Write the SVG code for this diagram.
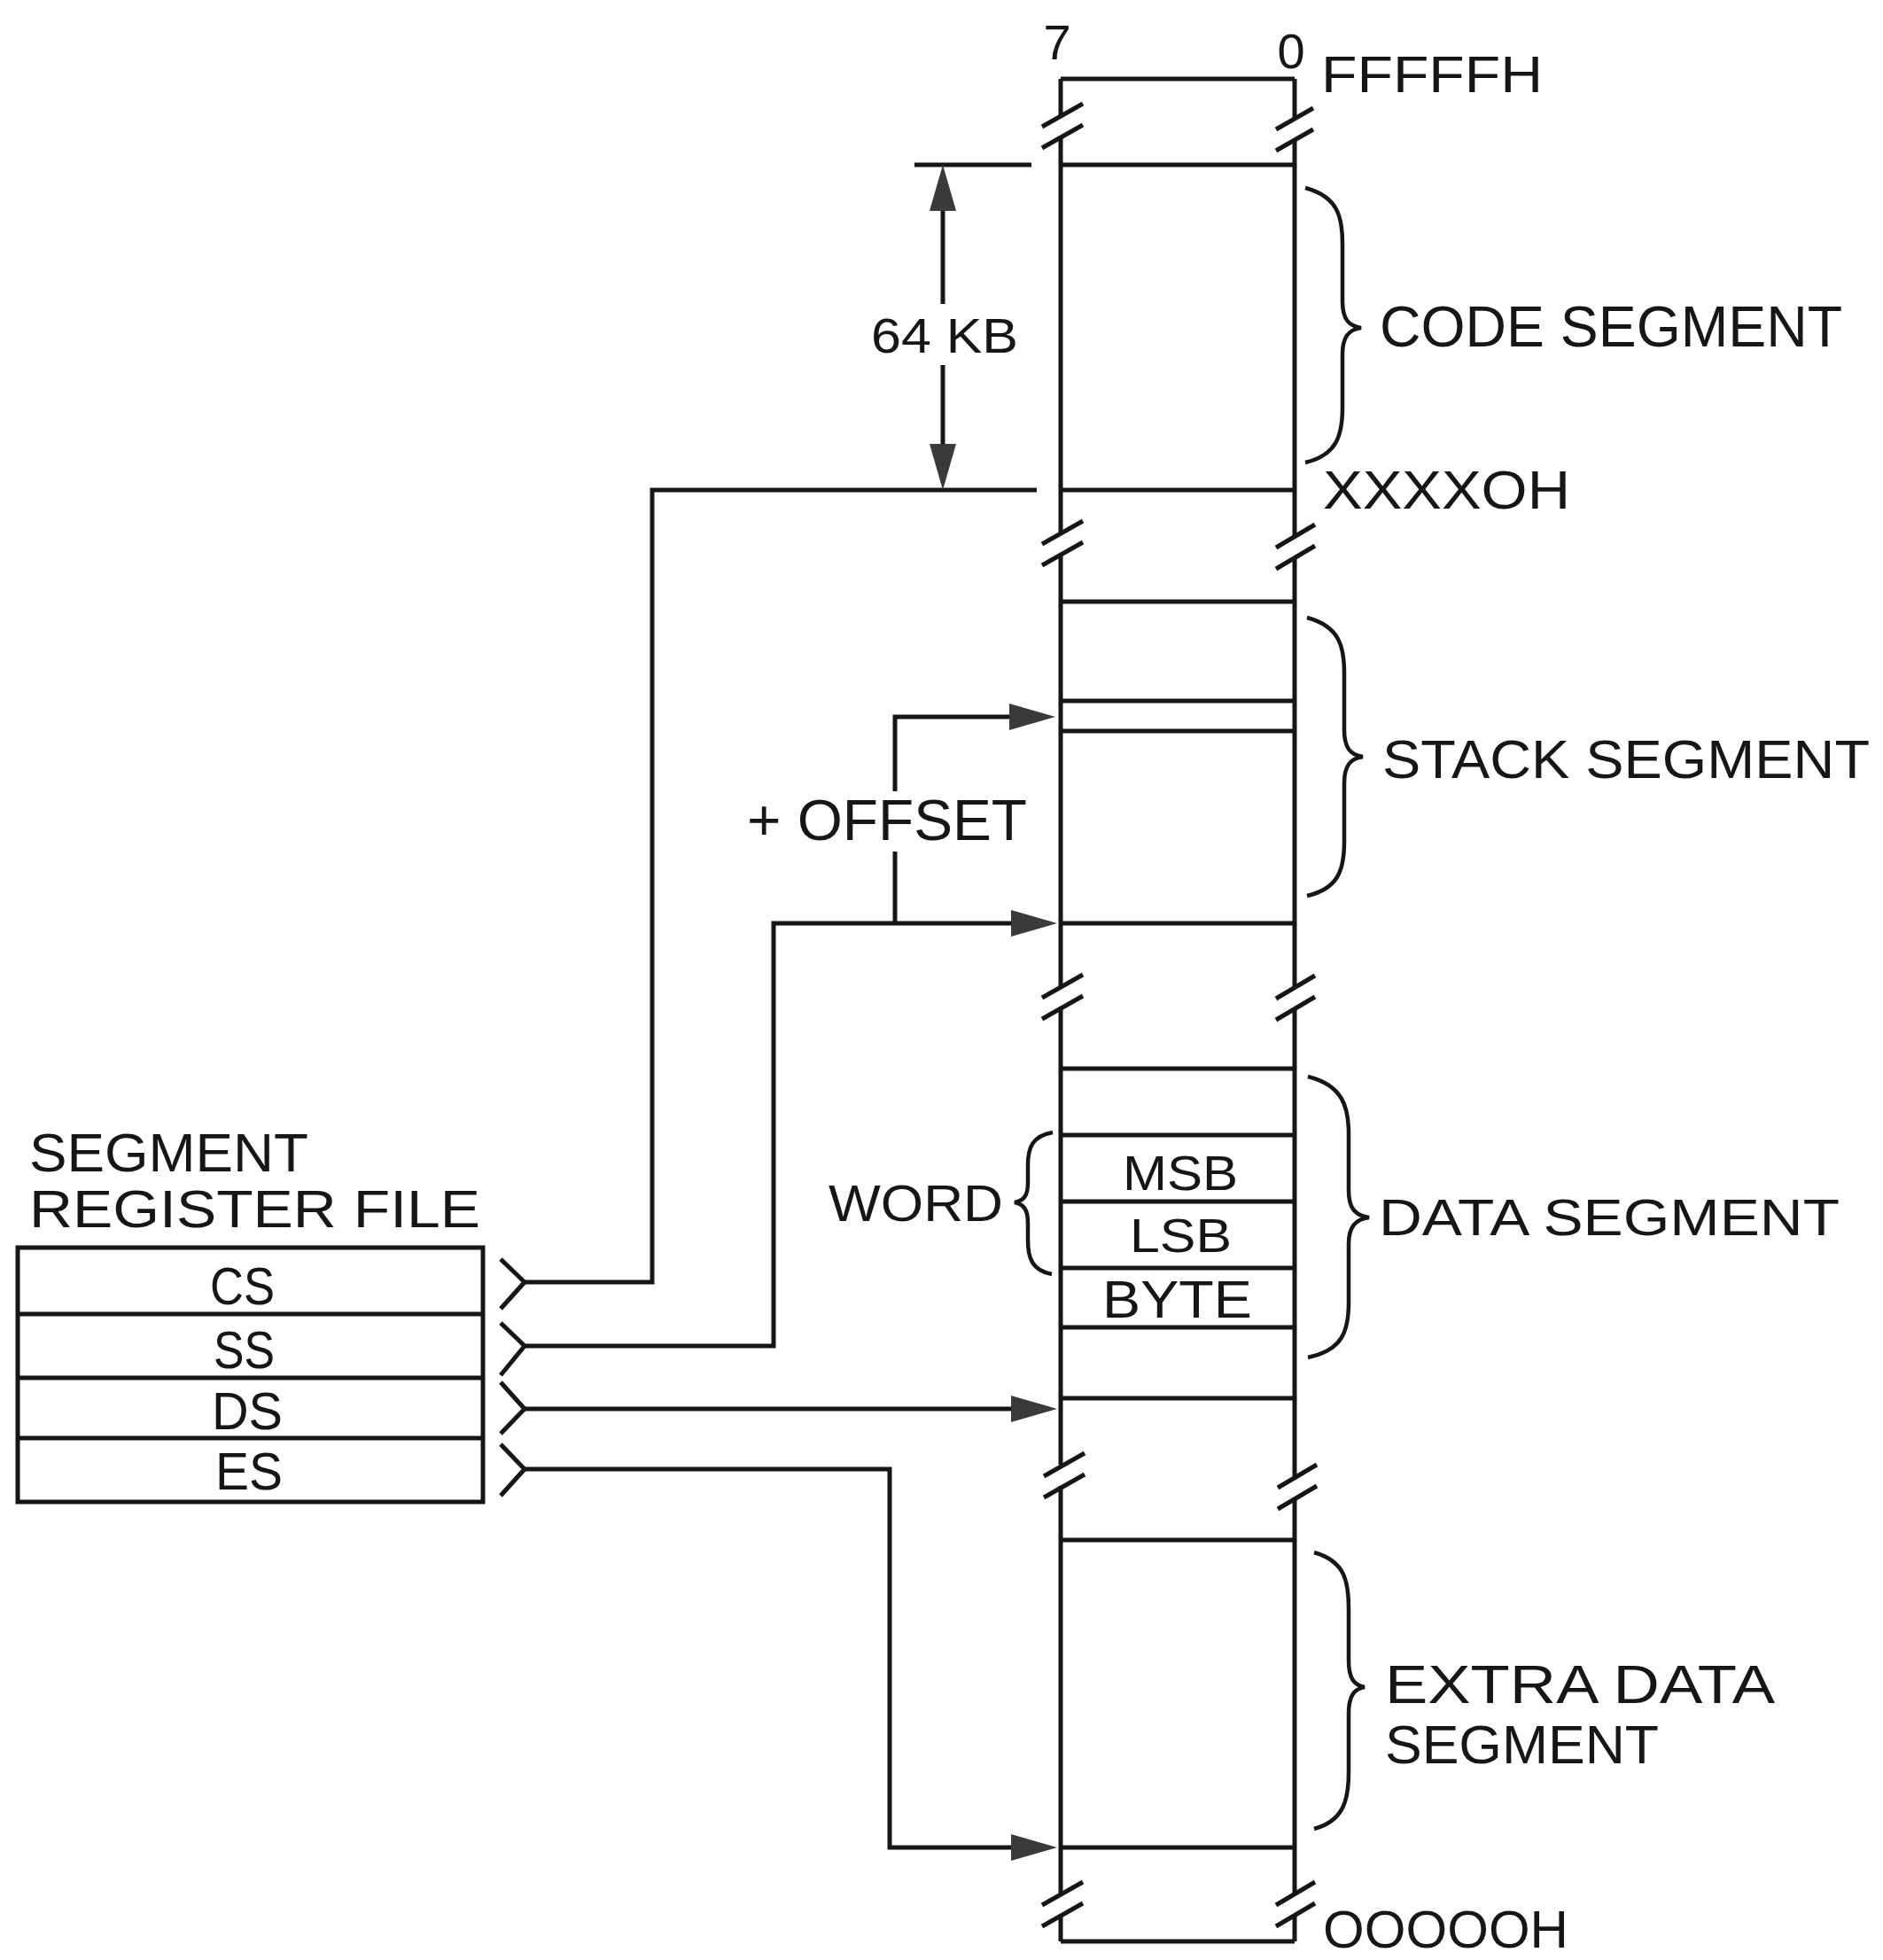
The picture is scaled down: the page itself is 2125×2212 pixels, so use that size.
<svg xmlns="http://www.w3.org/2000/svg" width="2125" height="2212" viewBox="0 0 2125 2212">
<style>
.ln{stroke:#161616;stroke-width:5;fill:none;stroke-linecap:butt;stroke-linejoin:miter}
.br{stroke:#161616;stroke-width:4.5;fill:none}
.t{font-family:"Liberation Sans",Arial,sans-serif;fill:#161616}
</style>
<defs>
<marker id="ah" markerUnits="userSpaceOnUse" markerWidth="54" markerHeight="32" refX="32" refY="15" orient="auto">
<path d="M0,0 L52,15 L0,30 Z" fill="#3a3a3a"/>
</marker>
</defs>
<rect width="2125" height="2212" fill="#ffffff"/>

<g id="memory-column">
<path class="ln" d="M1197,89 H1461"/>
<path class="ln" d="M1197,89 V130 M1197,154 V601 M1197,625 V1113 M1197,1137 V1653 M1197,1677 V2137 M1197,2161 V2191"/>
<path class="ln" d="M1461,89 V133 M1461,157 V605 M1461,629 V1114 M1461,1138 V1666 M1461,1690 V2137 M1461,2161 V2191"/>
<path class="ln" d="M1176,143 L1222,117 M1176,167 L1222,141 M1440,146 L1482,122 M1440,170 L1482,146"/>
<path class="ln" d="M1176,614 L1222,588 M1176,638 L1222,612 M1440,618 L1484,592 M1440,642 L1484,616"/>
<path class="ln" d="M1176,1126 L1222,1100 M1176,1150 L1222,1124 M1440,1127 L1484,1101 M1440,1151 L1484,1125"/>
<path class="ln" d="M1178,1666 L1224,1640 M1178,1690 L1224,1664 M1442,1679 L1486,1653 M1442,1703 L1486,1677"/>
<path class="ln" d="M1176,2150 L1222,2124 M1176,2174 L1222,2148 M1440,2150 L1484,2124 M1440,2174 L1484,2148"/>
<path class="ln" d="M1197,186 H1461 M1197,553 H1461 M1197,679 H1461 M1197,791 H1461 M1197,825 H1461 M1197,1042 H1461 M1197,1206 H1461 M1197,1281 H1461 M1197,1356 H1461 M1197,1431 H1461 M1197,1498 H1461 M1197,1578 H1461 M1197,1738 H1461 M1197,2085 H1461 M1197,2191 H1461"/>
<text class="t" x="1193" y="67" font-size="56" text-anchor="middle">7</text>
<text class="t" x="1457" y="77" font-size="56" text-anchor="middle">0</text>
<text class="t" x="1491" y="104" font-size="58" textLength="250" lengthAdjust="spacingAndGlyphs">FFFFFH</text>
<text class="t" x="1493" y="574" font-size="61" textLength="279" lengthAdjust="spacingAndGlyphs">XXXXOH</text>
<text class="t" x="1493" y="2198" font-size="60" textLength="277" lengthAdjust="spacingAndGlyphs">OOOOOH</text>
<text class="t" x="1267" y="1343" font-size="56" textLength="130" lengthAdjust="spacingAndGlyphs">MSB</text>
<text class="t" x="1275" y="1413" font-size="54" textLength="115" lengthAdjust="spacingAndGlyphs">LSB</text>
<text class="t" x="1244" y="1487" font-size="60" textLength="169" lengthAdjust="spacingAndGlyphs">BYTE</text>
</g>

<g id="code-segment">
<path class="br" d="M1473,212 C1510,222 1515,245 1515,275 V340 C1515,360 1522,368 1536,370 C1522,372 1515,380 1515,400 V460 C1515,492 1508,514 1473,522"/>
<text class="t" x="1557" y="391" font-size="64" textLength="522" lengthAdjust="spacingAndGlyphs">CODE SEGMENT</text>
</g>

<g id="stack-segment">
<path class="br" d="M1475,697 C1512,707 1517,730 1517,760 V824 C1517,844 1524,852 1538,854 C1524,856 1517,864 1517,884 V950 C1517,982 1510,1003 1475,1011"/>
<text class="t" x="1560" y="878" font-size="61" textLength="550" lengthAdjust="spacingAndGlyphs">STACK SEGMENT</text>
</g>

<g id="data-segment">
<path class="br" d="M1476,1215 C1516,1225 1522,1250 1522,1280 V1344 C1522,1364 1530,1372 1545,1374 C1530,1376 1522,1384 1522,1404 V1470 C1522,1502 1515,1524 1476,1532"/>
<text class="t" x="1556" y="1394" font-size="58" textLength="520" lengthAdjust="spacingAndGlyphs">DATA SEGMENT</text>
</g>

<g id="word">
<path class="br" d="M1188,1278 C1165,1282 1160,1295 1160,1315 V1335 C1160,1350 1155,1355 1145,1357 C1155,1359 1160,1365 1160,1380 V1400 C1160,1420 1165,1434 1187,1438"/>
<text class="t" x="935" y="1378" font-size="57" textLength="197" lengthAdjust="spacingAndGlyphs">WORD</text>
</g>

<g id="extra-data-segment">
<path class="br" d="M1483,1752 C1518,1762 1522,1785 1522,1815 V1874 C1522,1894 1528,1902 1540,1904 C1528,1906 1522,1914 1522,1934 V2000 C1522,2032 1516,2055 1483,2064"/>
<text class="t" x="1563" y="1922" font-size="62" textLength="440" lengthAdjust="spacingAndGlyphs">EXTRA DATA</text>
<text class="t" x="1563" y="1990" font-size="62" textLength="309" lengthAdjust="spacingAndGlyphs">SEGMENT</text>
</g>

<g id="segment-register-file">
<text class="t" x="33" y="1322" font-size="61" textLength="315" lengthAdjust="spacingAndGlyphs">SEGMENT</text>
<text class="t" x="33" y="1385" font-size="60" textLength="509" lengthAdjust="spacingAndGlyphs">REGISTER FILE</text>
<rect class="ln" x="20" y="1408" width="525" height="287"/>
<path class="ln" d="M20,1483 H545 M20,1555 H545 M20,1623 H545"/>
<text class="t" x="237" y="1472" font-size="60" textLength="73" lengthAdjust="spacingAndGlyphs">CS</text>
<text class="t" x="241" y="1544" font-size="60" textLength="69" lengthAdjust="spacingAndGlyphs">SS</text>
<text class="t" x="239" y="1613" font-size="60" textLength="80" lengthAdjust="spacingAndGlyphs">DS</text>
<text class="t" x="243" y="1681" font-size="60" textLength="76" lengthAdjust="spacingAndGlyphs">ES</text>
</g>

<g id="connectors">
<path class="ln" d="M565,1421 L592,1447 L565,1477"/>
<path class="ln" d="M565,1493 L592,1519 L565,1552"/>
<path class="ln" d="M565,1560 L592,1590 L565,1618"/>
<path class="ln" d="M565,1630 L592,1658 L565,1688"/>
<path class="ln" d="M592,1447 H736 V553 H1170"/>
<path class="ln" d="M592,1519 H873 V1042 H1173" marker-end="url(#ah)"/>
<path class="ln" d="M1010,1042 V961"/>
<path class="ln" d="M1010,893 V809 H1171" marker-end="url(#ah)"/>
<path class="ln" d="M592,1590 H1173" marker-end="url(#ah)"/>
<path class="ln" d="M592,1658 H1004 V2085 H1173" marker-end="url(#ah)"/>
<path class="ln" d="M1032,186 H1164"/>
<path class="ln" d="M1064,343 V206" marker-end="url(#ah)"/>
<path class="ln" d="M1064,412 V533" marker-end="url(#ah)"/>
<text class="t" x="983" y="398" font-size="56" textLength="166" lengthAdjust="spacingAndGlyphs">64 KB</text>
<text class="t" x="843" y="948" font-size="64" textLength="316" lengthAdjust="spacingAndGlyphs">+ OFFSET</text>
</g>
</svg>
